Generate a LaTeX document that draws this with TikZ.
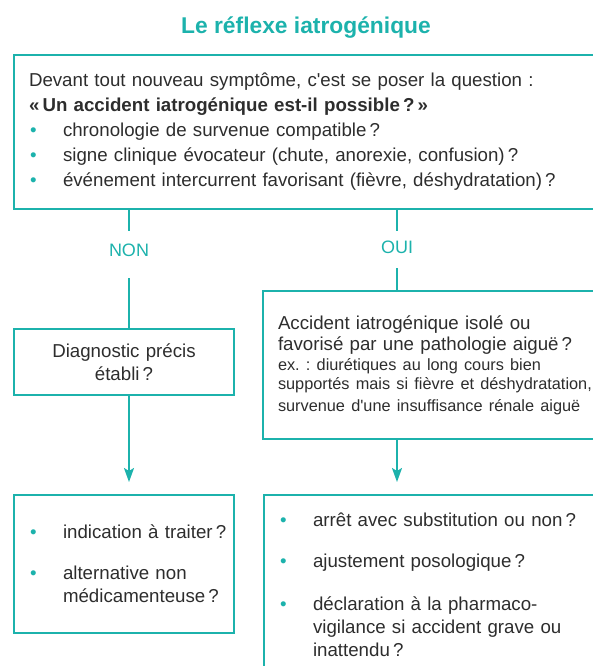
\documentclass[tikz,border=0pt]{standalone}
\usepackage{fontspec}
\setmainfont{Liberation Sans}
\usetikzlibrary{arrows.meta, positioning}
\definecolor{iatroteal}{RGB}{28,178,172}
\definecolor{iatrotext}{RGB}{45,45,45}
\newcommand{\puce}{\makebox[34pt][l]{\hspace{1pt}\textcolor{iatroteal}{\textbullet}}}
\newcommand{\suite}{\hspace*{34pt}}
\frenchspacing

\begin{document}
\begin{tikzpicture}[x=1pt, y=-1pt,
    box/.style={rectangle, draw=iatroteal, line width=2pt, anchor=north west, inner xsep=15pt, inner ysep=0pt, align=left, text=iatrotext, font=\fontsize{18.7}{25}\selectfont},
    reponse/.style={text=iatroteal, inner sep=0pt, font=\fontsize{18}{20}\selectfont},
    link/.style={draw=iatroteal, line width=2pt},
    arrow/.style={link, -{Stealth[length=14pt, width=10pt, inset=3pt]}, shorten >=12pt}
]
    \useasboundingbox (0,0) rectangle (593,666);
    \clip (0,0) rectangle (593,666);
    % Title
    \node[text=iatroteal, font=\fontsize{22.8}{26}\selectfont\bfseries] (titre) at (306,28) {Le réflexe iatrogénique};
    % Boxes
    \node[box, text width=557pt, minimum height=154pt] (question) at (13,54) {Devant tout nouveau symptôme, c\textquotesingle est se poser la question :\\
        \textbf{«\,Un accident iatrogénique est-il possible\,?\,»}\\
        \puce chronologie de survenue compatible\,?\\
        \puce signe clinique évocateur (chute, anorexie, confusion)\,?\\
        \puce événement intercurrent favorisant (fièvre, déshydratation)\,?};
    \node[box, align=center, text width=190pt, minimum height=66pt, font=\fontsize{18.7}{23}\selectfont] (diagnostic) at (13,328) {Diagnostic précis\\établi\,?};
    \node[box, text width=330pt, minimum height=148pt, font=\fontsize{18.7}{21.5}\selectfont] (accident) at (262,290) {Accident iatrogénique isolé ou\\
        favorisé par une pathologie aiguë\,?\\
        {\fontsize{16.3}{19.5}\selectfont ex.~: diurétiques au long cours bien\\
        supportés mais si fièvre et déshydratation,\\
        survenue d\textquotesingle une insuffisance rénale aiguë}};
    \node[box, text width=190pt, minimum height=138pt, font=\fontsize{18.7}{23}\selectfont] (nonmed) at (13,494) {\puce\mbox{indication à traiter\,?}\\[18pt]
        \puce alternative non\\
        \suite médicamenteuse\,?};
    \node[box, text width=330pt, minimum height=180pt, font=\fontsize{18.7}{23}\selectfont] (conduite) at (263,494) {\puce arrêt avec substitution ou non\,?\\[18pt]
        \puce ajustement posologique\,?\\[20pt]
        \puce déclaration à la pharmaco-\\
        \suite vigilance si accident grave ou\\
        \suite inattendu\,?};
    % Answers
    \node[reponse, minimum height=38pt] (non) at (129,250) {NON};
    \node[reponse, minimum height=32pt] (oui) at (397,247) {OUI};
    % Connectors
    \draw[link] (non |- question.south) -- (non.north);
    \draw[link, shorten <=9pt] (non.south) -- (non |- diagnostic.north);
    \draw[arrow] (non |- diagnostic.south) -- (non |- nonmed.north);
    \draw[link] (oui |- question.south) -- (oui.north);
    \draw[link, shorten <=5pt] (oui.south) -- (oui |- accident.north);
    \draw[arrow] (oui |- accident.south) -- (oui |- conduite.north);
\end{tikzpicture}
\end{document}
